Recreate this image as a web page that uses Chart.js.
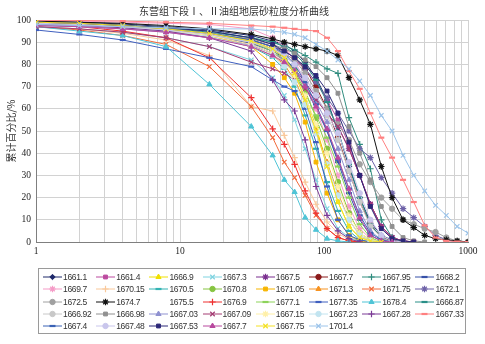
<!DOCTYPE html>
<html>
<head>
<meta charset="utf-8">
<script src="https://cdn.jsdelivr.net/npm/chart.js@4.4.1/dist/chart.umd.min.js"></script>
<style>
  html, body { margin: 0; padding: 0; background: #fff; }
  #wrap { position: relative; width: 485px; height: 344px; }
  #chart { position: absolute; left: 0; top: 0; }
  #legend { position: absolute; left: 38px; top: 268px; width: 428px; height: 66px;
            border: 1px solid #9a9a9a; box-sizing: border-box; }
  .item { position: absolute; height: 12px; display: flex; align-items: center;
          font: 8.5px "Liberation Sans", Arial, sans-serif; color: #333;
          white-space: nowrap; letter-spacing: -0.35px; }
  .item canvas { margin-right: 1px; }
</style>
</head>
<body>
<div id="wrap">
  <canvas id="chart" width="485" height="344"></canvas>
  <div id="legend"></div>
</div>
<script>
// sieve sizes (x axis, log scale)
const sizes = [1, 2, 4, 8, 16, 31.25, 44, 53, 62.5, 74, 88, 105, 125, 149, 177, 210, 250, 297, 354, 420, 500, 595, 707, 841, 1000];

// cumulative percent per sample (one value per size, from the left)
const v1661_1  = [99.5, 99, 98.2, 97, 95.5, 93, 90.5, 89, 86, 81, 74, 64, 50, 34, 20, 9, 3, 0.8, 0];
const v1661_4  = [98, 97.5, 96.5, 95, 93, 90, 87, 85, 82, 78, 72, 64, 55, 44, 30, 17, 7, 2, 0.5, 0];
const v1666_9  = [99, 98.5, 97.5, 96, 94, 90, 86, 82, 76, 66, 52, 35, 18, 7, 2, 0.5, 0];
const v1667_3  = [97, 96, 94.5, 92, 88, 82, 74, 66, 55, 42, 28, 15, 6, 2, 0.5, 0];
const v1667_5  = [98.5, 98, 97, 95.5, 93, 89, 85, 82, 78, 72, 65, 58, 52, 42, 30, 17, 7, 2, 0.5, 0];
const v1667_7a = [99, 98.5, 97.5, 96, 94, 91, 88, 86, 83, 78, 70, 60, 47, 32, 18, 8, 2, 0.5, 0];
const v1667_95 = [99, 98.5, 97.5, 96.5, 95, 92, 90, 88.5, 86.5, 84, 81, 78, 76, 56, 44, 33, 10, 2, 0];
const v1668_2  = [98.5, 98, 97, 95.5, 93, 89.5, 86, 83, 78, 70, 60, 50, 36, 22, 10, 3, 0.5, 0];
const v1669_7  = [99.8, 99.5, 99, 98.5, 98, 96, 92, 88, 82, 72, 60, 46, 30, 16, 6, 1.5, 0];
const v1670_15 = [97, 96, 94, 91, 84, 61, 59, 48, 38, 27, 17, 9, 4, 1, 0];
const v1670_5  = [98, 97.5, 96.5, 95, 92.5, 88, 83, 78, 70, 57, 42, 27, 14, 5, 1, 0];
const v1670_8  = [99, 98.5, 97.5, 96, 94, 90.5, 87, 83, 77, 68, 56, 42, 27, 13, 4, 1, 0];
const v1671_05 = [98.5, 98, 97, 95.5, 93, 88, 80, 74, 67, 54, 36, 22, 10, 3, 0.5, 0];
const v1671_3  = [98, 97.5, 96.5, 95, 92.5, 88, 84, 80, 73, 63, 50, 36, 22, 10, 3, 0.5, 0];
const v1671_75 = [97, 95.5, 93, 89, 79, 61, 47, 36, 29, 21, 12, 6, 2, 0.5, 0];
const v1672_1  = [98.5, 98, 97, 96, 94, 91, 88, 86, 83, 78, 72, 65, 58, 50, 42, 38, 29, 22, 15, 11, 7, 3, 1, 0];
const v1672_5  = [98, 97.5, 96.5, 95, 93, 90, 87, 85, 82, 76, 68, 60, 53, 46, 35, 27, 20, 15, 10, 8, 6, 4.5, 2, 0.5, 0];
const v1674_7  = [99.5, 99, 98.5, 97.5, 96, 93.5, 91.5, 90, 89, 88, 87, 86, 84, 74, 64, 53, 34, 20, 10, 6.5, 3, 1.5, 1, 0.5, 0];
const v1675_5  = [];
const v1676_9  = [98, 97, 95, 92, 83, 65, 51, 44, 35, 23, 13, 6, 2, 0.5, 0];
const v1677_1  = [98.5, 98, 97, 95.5, 93.5, 90, 86, 82, 76, 67, 57, 47, 34, 20, 8, 2, 0];
const v1677_35 = [95.5, 93.5, 91, 87, 83, 79, 73, 70, 68, 60, 45, 25, 10, 3, 1, 0];
const v1678_4  = [97, 95, 93, 88, 71, 52, 39, 28, 22.5, 11, 5.5, 1.5, 0.5, 0];
const v1666_87 = [99, 98.5, 97.5, 96.5, 94.5, 92, 90, 88, 85, 80, 73, 63, 50, 35, 20, 8, 2, 0];
const v1666_92 = [98, 97.5, 96.5, 95, 93, 90, 87, 84, 80, 74, 66, 57, 46, 32, 18, 7, 2, 0];
const v1666_98 = [98.5, 98, 97, 96, 94, 91.5, 89, 87, 85, 82, 79, 74, 67, 52, 40, 28, 16, 7, 2, 0.5, 0];
const v1667_03 = [97.5, 97, 96, 94.5, 92, 88.5, 85, 82, 77, 71, 63, 54, 42, 28, 14, 5, 1, 0];
const v1667_09 = [97, 96, 94.5, 92, 88, 81, 78, 76, 73, 69, 64, 58, 52, 42, 30, 17, 7, 2, 0.5, 0];
const v1667_15 = [98.5, 98, 97, 95.5, 93, 89, 85, 81, 75, 66, 53, 40, 25, 12, 4, 1, 0];
const v1667_23 = [98, 97.5, 96.5, 95, 92.5, 88, 84, 79, 72, 62, 49, 35, 21, 10, 3, 0.5, 0];
const v1667_28 = [98, 97.5, 96.5, 95, 92, 86, 73, 64, 59, 46, 25, 12, 5, 1.5, 0];
const v1667_33 = [100, 99.8, 99.5, 99, 98.5, 97.5, 97, 96.5, 96, 95.5, 95, 92, 86, 77, 69, 58, 47, 38, 28, 18, 7.5, 2, 0.5, 0.2, 0];
const v1667_4  = [99, 98.5, 97.5, 96, 94, 91, 88, 85, 80, 72, 62, 50, 37, 24, 12, 4, 1, 0];
const v1667_48 = [98.5, 98, 97, 95.5, 93.5, 90, 87, 84, 80, 74, 66, 58, 49, 36, 22, 10, 3, 0.5, 0];
const v1667_53 = [99, 98.5, 97.5, 96.5, 95, 92, 89, 86, 83, 79, 75, 68, 58, 45, 30, 16, 6, 1.5, 0.5, 0];
const v1667_7b = [97.5, 97, 96, 94.5, 92, 88, 84, 81, 77, 70, 61, 51, 38, 24, 11, 3, 0.5, 0];
const v1667_75 = [99, 98.5, 97.5, 96, 94, 90.5, 87, 83, 76, 64, 50, 34, 18, 7, 2, 0.5, 0];
const v1701_4  = [98, 97.5, 97, 96.5, 96, 96, 95, 94.5, 93.5, 92, 89, 86, 82, 78, 72.5, 66, 57, 50, 39, 30, 23, 16.5, 12, 7, 4];

const names = ['1661.1', '1661.4', '1666.9', '1667.3', '1667.5', '1667.7', '1667.95', '1668.2',
  '1669.7', '1670.15', '1670.5', '1670.8', '1671.05', '1671.3', '1671.75', '1672.1',
  '1672.5', '1674.7', '1675.5', '1676.9', '1677.1', '1677.35', '1678.4', '1666.87',
  '1666.92', '1666.98', '1667.03', '1667.09', '1667.15', '1667.23', '1667.28', '1667.33',
  '1667.4', '1667.48', '1667.53', '1667.7', '1667.75', '1701.4'];

const values = [v1661_1, v1661_4, v1666_9, v1667_3, v1667_5, v1667_7a, v1667_95, v1668_2,
  v1669_7, v1670_15, v1670_5, v1670_8, v1671_05, v1671_3, v1671_75, v1672_1,
  v1672_5, v1674_7, v1675_5, v1676_9, v1677_1, v1677_35, v1678_4, v1666_87,
  v1666_92, v1666_98, v1667_03, v1667_09, v1667_15, v1667_23, v1667_28, v1667_33,
  v1667_4, v1667_48, v1667_53, v1667_7b, v1667_75, v1701_4];

// tick labels
const xTickLabels = [1, 10, 100, 1000];
const xGrid = [1, 2, 3, 4, 5, 6, 7, 8, 9, 10, 20, 30, 40, 50, 60, 70, 80, 90,
  100, 200, 300, 400, 500, 600, 700, 800, 900, 1000];

// marker / colour per series (Excel-like)
const colors = ['#1f2a6b', '#bc4a9f', '#f0e000', '#7fd3e0', '#7a2f8f', '#8b1a1a', '#2f8c7e', '#3651a8',
  '#f59bc7', '#f9c89a', '#33b3b3', '#86c440', '#f7b500', '#f79321', '#f26a3b', '#6e62a8',
  '#a0a0a0', '#111111', 'rgba(0,0,0,0)', '#ee3030', '#8dd35a', '#3f5fbf', '#4fc4d6', '#2a8f88',
  '#c8c8c8', '#909090', '#8f91d0', '#a43c73', '#fff0a8', '#c2e4f0', '#7b3a96', '#ff8080',
  '#3a62b5', '#c9c6ec', '#2c2878', '#b8489e', '#f4e125', '#9cc4ea'];
const markers = ['rectRot', 'rect', 'triangle', 'crossRot', 'star', 'circle', 'cross', 'line',
  'star', 'cross', 'line', 'circle', 'rect', 'triangle', 'crossRot', 'star',
  'circle', 'star', false, 'cross', 'line', 'line', 'triangle', 'line',
  'circle', 'rect', 'triangle', 'crossRot', 'star', 'circle', 'cross', 'line',
  'line', 'circle', 'rect', 'triangle', 'crossRot', 'crossRot'];

function markerSize(m) {
  if (m === 'line') return { r: 3, w: 2.2 };
  if (m === 'cross' || m === 'crossRot' || m === 'star') return { r: 3.2, w: 1.2 };
  if (m === 'triangle') return { r: 3, w: 1 };
  return { r: 2.7, w: 1 };
}

const datasets = names.map((name, i) => {
  const m = markers[i];
  const ms = markerSize(m);
  const pts = [];
  values[i].forEach((y, k) => { if (y !== null) pts.push({ x: sizes[k], y: y }); });
  return {
    label: name,
    data: pts,
    borderColor: colors[i],
    backgroundColor: colors[i],
    borderWidth: 1,
    pointStyle: m || 'circle',
    pointRadius: m ? ms.r : 0,
    pointBorderWidth: ms.w,
    pointBackgroundColor: colors[i],
    pointBorderColor: colors[i],
    tension: 0,
    order: -i
  };
});

const tickFont = { family: '"Liberation Serif", "Times New Roman", serif', size: 9.5 };

new Chart(document.getElementById('chart'), {
  type: 'line',
  data: { datasets },
  options: {
    responsive: false,
    animation: false,
    devicePixelRatio: 1,
    layout: { padding: { left: 0, right: 17, top: 0, bottom: 88 } },
    plugins: {
      legend: { display: false },
      tooltip: { enabled: false },
      title: {
        display: true,
        text: '东营组下段Ⅰ、Ⅱ油组地层砂粒度分析曲线',
        color: '#333',
        font: { family: '"Noto Sans CJK SC", sans-serif', size: 10, weight: 'normal' },
        padding: { top: 5, bottom: 3 }
      }
    },
    scales: {
      x: {
        type: 'logarithmic',
        min: 1,
        max: 1000,
        afterBuildTicks: (scale) => { scale.ticks = xGrid.map(v => ({ value: v })); },
        afterFit: (scale) => { scale.height = 14; },
        ticks: {
          autoSkip: false,
          maxRotation: 0,
          padding: 4,
          color: '#222',
          font: tickFont,
          callback: (v) => xTickLabels.includes(v) ? String(v) : ''
        },
        grid: { color: '#d2d2d2', drawTicks: false },
        border: { color: '#7f7f7f' }
      },
      y: {
        min: 0,
        max: 100,
        afterFit: (scale) => { scale.width = 36; },
        ticks: { stepSize: 10, padding: 5, color: '#222', font: tickFont },
        grid: { color: '#d2d2d2', drawTicks: false },
        border: { color: '#7f7f7f' },
        title: {
          display: true,
          text: '累计百分比/%',
          color: '#333',
          font: { family: '"Noto Sans CJK SC", sans-serif', size: 10 },
          padding: { top: 5, bottom: 0 }
        }
      }
    }
  }
});

// legend in 8 fixed columns, line + marker sample like the original
const legend = document.getElementById('legend');
names.forEach((name, i) => {
  const col = i % 8, row = Math.floor(i / 8);
  const item = document.createElement('div');
  item.className = 'item';
  item.style.left = (4 + col * 53.2) + 'px';
  item.style.top = (2 + row * 12.3) + 'px';
  const c = document.createElement('canvas');
  c.width = 19; c.height = 10;
  const ctx = c.getContext('2d');
  if (markers[i]) {
    ctx.strokeStyle = colors[i];
    ctx.fillStyle = colors[i];
    ctx.lineWidth = 1;
    ctx.beginPath(); ctx.moveTo(0, 5); ctx.lineTo(19, 5); ctx.stroke();
    const ms = markerSize(markers[i]);
    ctx.lineWidth = ms.w;
    if (Chart.helpers && Chart.helpers.drawPoint) {
      Chart.helpers.drawPoint(ctx, { pointStyle: markers[i], rotation: 0, radius: ms.r, borderWidth: ms.w }, 9.5, 5);
    }
  }
  item.appendChild(c);
  const t = document.createElement('span');
  t.textContent = name;
  item.appendChild(t);
  legend.appendChild(item);
});
</script>
</body>
</html>
